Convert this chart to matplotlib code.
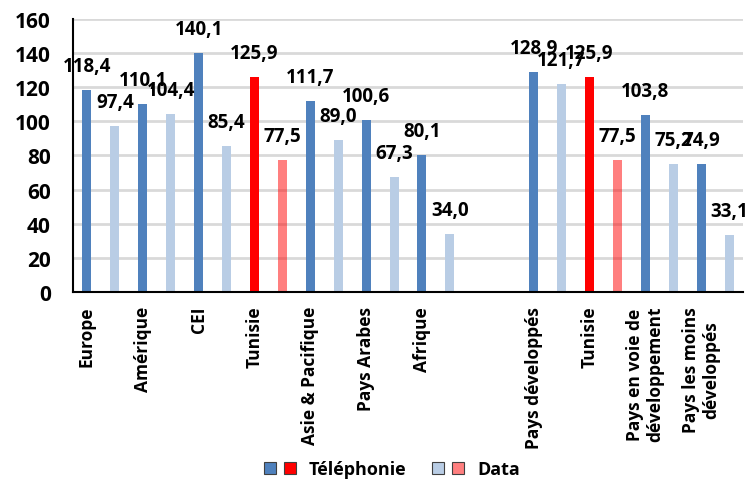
import matplotlib
matplotlib.use('Agg')
import matplotlib.pyplot as plt
from matplotlib.lines import Line2D
from matplotlib.legend_handler import HandlerTuple
import numpy as np

categories = ['Europe', 'Amérique', 'CEI', 'Tunisie', 'Asie & Pacifique', 'Pays Arabes',
              'Afrique', '', 'Pays développés', 'Tunisie',
              'Pays en voie de\ndéveloppement', 'Pays les moins\ndéveloppés']
telephonie = [118.4, 110.1, 140.1, 125.9, 111.7, 100.6, 80.1, np.nan, 128.9, 125.9, 103.8, 74.9]
data = [97.4, 104.4, 85.4, 77.5, 89.0, 67.3, 34.0, np.nan, 121.7, 77.5, 75.2, 33.1]
highlight = 'Tunisie'
yticks = [0, 20, 40, 60, 80, 100, 120, 140, 160]
series_names = ['Téléphonie', 'Data']

plt.rcParams['font.family'] = ['Open Sans', 'DejaVu Sans']
plt.rcParams['font.weight'] = 'bold'

BLUE = '#4F81BD'
LIGHT = '#B9CDE5'
RED = '#FF0000'
PINK = (1, 0, 0, 0.5)

fig = plt.figure(figsize=(7.5, 4.81), dpi=100)
ax = fig.add_axes([0.0973, 0.3909, 0.8934, 0.5676])

x = np.arange(len(categories))
c1 = [RED if c == highlight else BLUE for c in categories]
c2 = [PINK if c == highlight else LIGHT for c in categories]
ax.bar(x - 0.25, telephonie, width=0.16, color=c1, zorder=2)
ax.bar(x + 0.25, data, width=0.16, color=c2, zorder=2)

def fmt(v):
    return f'{v:.1f}'.replace('.', ',')

for xs, vals in ((x - 0.25, telephonie), (x + 0.25, data)):
    for xi, v in zip(xs, vals):
        if np.isnan(v):
            continue
        ax.annotate(fmt(v), (xi, v), xytext=(0, 24), textcoords='offset pixels',
                    ha='center', va='center', fontsize=13.5, fontweight='bold',
                    color='black', zorder=3)

ax.set_xlim(-0.5, len(categories) - 0.5)
ax.set_ylim(0, 160)
ax.set_yticks(yticks)
ax.set_yticklabels([str(t) for t in yticks], fontsize=15, fontweight='bold')
ax.yaxis.grid(True, color='#D9D9D9', linewidth=2)
ax.set_axisbelow(True)
ax.set_xticks(x - 0.25)
ax.set_xticklabels(categories, rotation=90, ha='center', va='top',
                   multialignment='center', fontsize=12.5, fontweight='bold')
ax.tick_params(axis='both', length=0)
ax.tick_params(axis='y', pad=16)
ax.tick_params(axis='x', pad=10)
for s in ('top', 'right'):
    ax.spines[s].set_visible(False)
for s in ('left', 'bottom'):
    ax.spines[s].set_color('black')
    ax.spines[s].set_linewidth(1.5)
    ax.spines[s].set_zorder(4)

def sq(color):
    return Line2D([], [], marker='s', linestyle='none', markersize=8,
                  markerfacecolor=color, markeredgecolor='#404040', markeredgewidth=0.8)

handles = [(sq(BLUE), sq(RED)), (sq(LIGHT), sq(PINK))]
fig.legend(handles, series_names, loc='lower center', bbox_to_anchor=(0.52, -0.03),
           ncol=2, frameon=False, handler_map={tuple: HandlerTuple(ndivide=None, pad=0)},
           handlelength=2.2, handletextpad=0.5, columnspacing=1.2,
           prop={'size': 13, 'weight': 'bold'})

fig.savefig('out.png', dpi=100)
